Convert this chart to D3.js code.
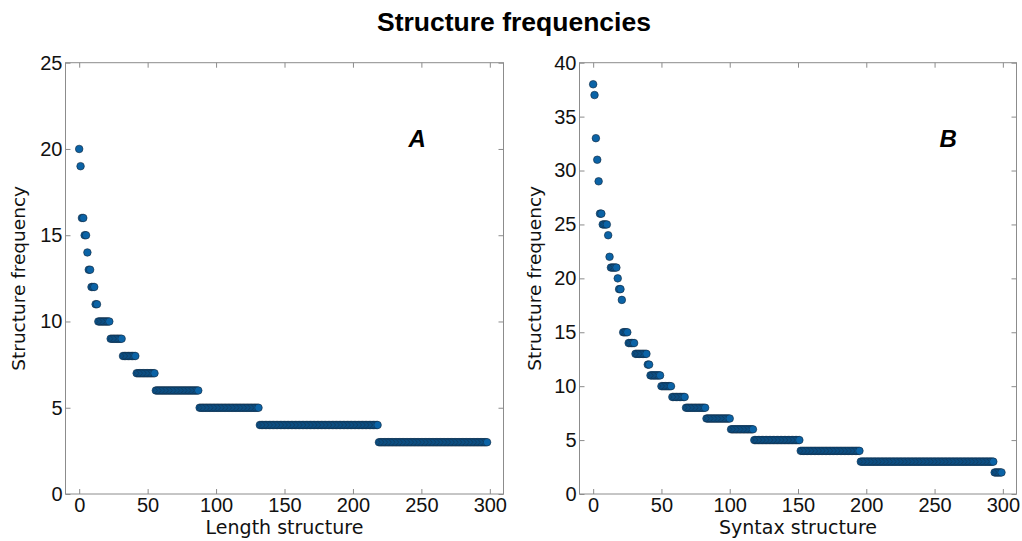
<!DOCTYPE html>
<html>
<head>
<meta charset="utf-8">
<script src="https://cdn.jsdelivr.net/npm/d3@7"></script>
<style>
  html, body { margin: 0; padding: 0; background: #ffffff; }
  svg { display: block; }
</style>
</head>
<body>
<svg id="chart" width="1022" height="541"></svg>
<script>
// ---- Data ----
// Panel A: frequency levels and how many structures share each level (sorted, descending)
const levelsA = [20, 19, 16, 15, 14, 13, 12, 11, 10, 9, 8, 7, 6, 5, 4, 3];
const countsA = [1, 1, 2, 2, 1, 2, 3, 2, 9, 9, 10, 14, 32, 44, 87, 80];
// Panel B
const levelsB = [38, 37, 33, 31, 29, 26, 25, 24, 22, 21, 20, 19, 18, 15, 14, 13, 12, 11, 10, 9, 8, 7, 6, 5, 4, 3, 2];
const countsB = [1, 1, 1, 1, 1, 2, 4, 1, 1, 5, 1, 2, 1, 4, 5, 9, 2, 8, 8, 10, 15, 18, 17, 34, 44, 98, 6];

const xTicks = [0, 50, 100, 150, 200, 250, 300];
const yTicksA = [0, 5, 10, 15, 20, 25];
const yTicksB = [0, 5, 10, 15, 20, 25, 30, 35, 40];

const titleText = "Structure frequencies";
const xLabelA = "Length structure";
const xLabelB = "Syntax structure";
const yLabel = "Structure frequency";

// expand run-lengths into ranked points
function expand(levels, counts) {
  const pts = [];
  levels.forEach((v, i) => {
    for (let k = 0; k < counts[i]; k++) pts.push(v);
  });
  return pts.map((v, i) => ({ x: i, y: v }));
}
const dataA = expand(levelsA, countsA);
const dataB = expand(levelsB, countsB);

const svg = d3.select("#chart");
const labelFont = "'DejaVu Sans', sans-serif";
const tickFont = "'Liberation Sans', Arial, sans-serif";
const frameColor = "#8c8c8c";
const dotFill = "#0b63a6";
const dotStroke = "#10263d";

svg.append("text")
  .attr("x", 514).attr("y", 31)
  .attr("text-anchor", "middle")
  .attr("font-family", "'Liberation Sans', Arial, sans-serif")
  .attr("font-weight", "bold")
  .attr("font-size", 26.5)
  .attr("fill", "#000")
  .text(titleText);

function panel(opts) {
  const { left, right, top, bottom, yMax, yTicks, data, xLabel, letter, letterPos, yLabelX } = opts;
  const x = d3.scaleLinear().domain([-10, 310]).range([left, right]);
  const y = d3.scaleLinear().domain([0, yMax]).range([bottom, top]);
  const g = svg.append("g");

  // frame
  g.append("rect")
    .attr("x", left).attr("y", top)
    .attr("width", right - left).attr("height", bottom - top)
    .attr("fill", "none").attr("stroke", frameColor).attr("stroke-width", 1);

  const styleAxis = (sel, showLabels) => {
    sel.select(".domain").remove();
    sel.selectAll(".tick line").attr("stroke", frameColor).attr("stroke-width", 1);
    sel.selectAll(".tick text")
      .attr("font-family", tickFont)
      .attr("font-size", 20)
      .attr("fill", "#111");
    if (!showLabels) sel.selectAll(".tick text").remove();
  };

  // bottom axis (inward ticks)
  g.append("g").attr("transform", `translate(0,${bottom})`)
    .call(d3.axisBottom(x).tickValues(xTicks).tickSizeInner(-5).tickSizeOuter(0).tickPadding(4).tickFormat(d3.format("d")))
    .call(s => styleAxis(s, true));
  // top axis
  g.append("g").attr("transform", `translate(0,${top})`)
    .call(d3.axisTop(x).tickValues(xTicks).tickSizeInner(-5).tickSizeOuter(0))
    .call(s => styleAxis(s, false));
  // left axis
  g.append("g").attr("transform", `translate(${left},0)`)
    .call(d3.axisLeft(y).tickValues(yTicks).tickSizeInner(-5).tickSizeOuter(0).tickPadding(3).tickFormat(d3.format("d")))
    .call(s => styleAxis(s, true));
  // right axis
  g.append("g").attr("transform", `translate(${right},0)`)
    .call(d3.axisRight(y).tickValues(yTicks).tickSizeInner(-5).tickSizeOuter(0))
    .call(s => styleAxis(s, false));

  // points
  g.append("g").selectAll("circle").data(data).join("circle")
    .attr("cx", d => x(d.x))
    .attr("cy", d => y(d.y))
    .attr("r", 3.8)
    .attr("fill", dotFill)
    .attr("stroke", dotStroke)
    .attr("stroke-width", 0.6);

  // x label
  g.append("text")
    .attr("x", (left + right) / 2).attr("y", 534)
    .attr("text-anchor", "middle")
    .attr("font-family", labelFont).attr("font-size", 19).attr("fill", "#111")
    .text(xLabel);

  // y label
  g.append("text")
    .attr("transform", `translate(${yLabelX},${(top + bottom) / 2}) rotate(-90)`)
    .attr("text-anchor", "middle")
    .attr("font-family", labelFont).attr("font-size", 18.5).attr("fill", "#111")
    .text(yLabel);

  // panel letter
  g.append("text")
    .attr("x", x(letterPos[0])).attr("y", y(letterPos[1]))
    .attr("text-anchor", "middle")
    .attr("font-family", "'Liberation Sans', Arial, sans-serif")
    .attr("font-weight", "bold").attr("font-style", "italic")
    .attr("font-size", 24).attr("fill", "#000")
    .text(letter);
}

panel({ left: 65.5, right: 503.5, top: 62.7, bottom: 494, yMax: 25, yTicks: yTicksA,
        data: dataA, xLabel: xLabelA, letter: "A", letterPos: [247, 20.1], yLabelX: 25 });
panel({ left: 579.5, right: 1016.5, top: 62.7, bottom: 494, yMax: 40, yTicks: yTicksB,
        data: dataB, xLabel: xLabelB, letter: "B", letterPos: [260, 32.2], yLabelX: 541 });
</script>
</body>
</html>
